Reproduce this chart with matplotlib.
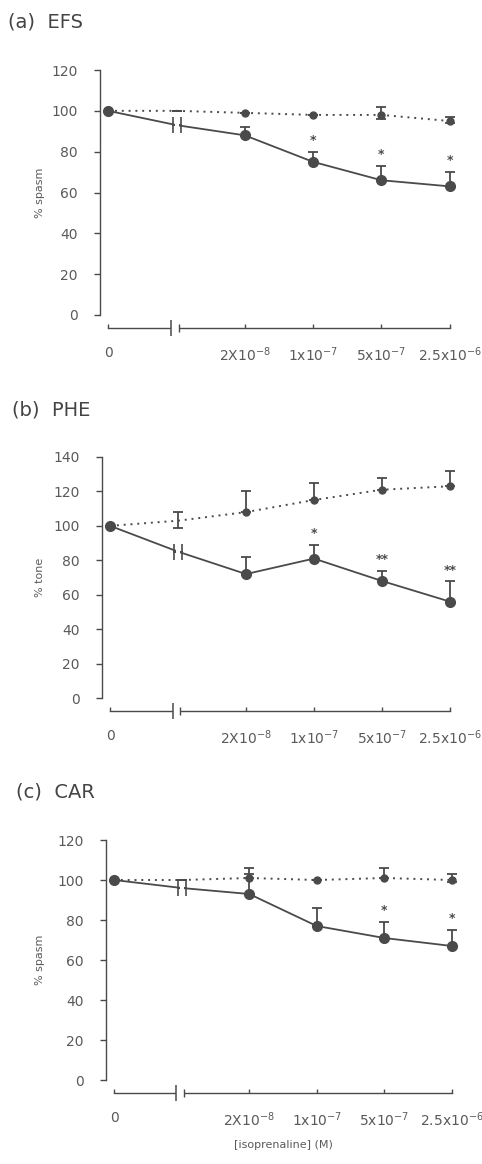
import numpy as np
import matplotlib
matplotlib.use("Agg")
import matplotlib.pyplot as plt
from matplotlib.path import Path
import matplotlib.transforms as mtrans

# ---------------- data ----------------
x_index = [0, 1, 2, 3, 4, 5]          # 0, (break = pre-drug), then 4 concentrations
tick_index = [0, 2, 3, 4, 5]
tick_labels = ['0', '2X10$^{-8}$', '1x10$^{-7}$', '5x10$^{-7}$', '2.5x10$^{-6}$']

# (a) EFS
efs_solid = [100, 93, 88, 75, 66, 63]
efs_solid_err = [0, 0, 4, 5, 7, 7]
efs_dotted = [100, 100, 99, 98, 98, 95]
efs_dotted_lo = [0, 0, 0, 0, 2, 1]
efs_dotted_hi = [0, 0, 0, 0, 4, 2]
efs_sig = ['', '', '', '*', '*', '*']

# (b) PHE
phe_solid = [100, 85, 72, 81, 68, 56]
phe_solid_err = [0, 0, 10, 8, 6, 12]
phe_dotted = [100, 103, 108, 115, 121, 123]
phe_dotted_lo = [0, 4, 0, 0, 0, 0]
phe_dotted_hi = [0, 5, 12, 10, 7, 9]
phe_sig = ['', '', '', '*', '**', '**']

# (c) CAR
car_solid = [100, 96, 93, 77, 71, 67]
car_solid_err = [0, 0, 13, 9, 8, 8]
car_dotted = [100, 100, 101, 100, 101, 100]
car_dotted_lo = [0, 0, 0, 0, 0, 1]
car_dotted_hi = [0, 0, 2, 0, 5, 3]
car_sig = ['', '', '', '', '*', '*']

titles = ['(a)  EFS', '(b)  PHE', '(c)  CAR']
ylabels = ['% spasm', '% tone', '% spasm']
ymaxes = [120, 140, 120]
xlabel = '[isoprenaline] (M)'

# ---------------- style ----------------
W, H = 482, 1164
DARK = '#4a4a4a'
TXT = '#5a5a5a'
plt.rcParams['font.family'] = ['DejaVu Sans']

fig = plt.figure(figsize=(W / 100, H / 100), dpi=100)
fig.patch.set_facecolor('white')

# axes rectangles in pixels: (left spine x, right x, top y, bottom y)
rects = [(100, 460, 70, 315), (102, 460, 457, 698), (106, 462, 840, 1080)]
title_pos = [(8, 22), (12, 410), (16, 792)]
OUT_PT = 9  # x-axis line offset below the plot, in points (~12 px)

# break marker: two vertical bars
brk_path = Path([(-0.45, -1), (-0.45, 1), (0.45, -1), (0.45, 1)],
                [Path.MOVETO, Path.LINETO, Path.MOVETO, Path.LINETO])

panels = [
    (efs_solid, efs_solid_err, efs_dotted, efs_dotted_lo, efs_dotted_hi, efs_sig),
    (phe_solid, phe_solid_err, phe_dotted, phe_dotted_lo, phe_dotted_hi, phe_sig),
    (car_solid, car_solid_err, car_dotted, car_dotted_lo, car_dotted_hi, car_sig),
]

for i, (solid, serr, dotted, dlo, dhi, sig) in enumerate(panels):
    l, r, t, b = rects[i]
    ax = fig.add_axes([l / W, (H - b) / H, (r - l) / W, (b - t) / H])
    ax.set_xlim(-0.12, 5.15)
    ax.set_ylim(0, ymaxes[i])
    for s in ['top', 'right']:
        ax.spines[s].set_visible(False)
    ax.spines['left'].set_color(DARK)
    ax.spines['left'].set_linewidth(1.0)
    ax.spines['bottom'].set_position(('outward', OUT_PT))
    ax.spines['bottom'].set_bounds(0, 5)
    ax.spines['bottom'].set_color(DARK)
    ax.spines['bottom'].set_linewidth(1.0)

    ax.set_yticks(np.arange(0, ymaxes[i] + 1, 20))
    ax.tick_params(axis='y', direction='out', length=4, width=1, color=DARK,
                   labelsize=10, labelcolor=TXT, pad=12)
    ax.set_xticks(tick_index)
    ax.set_xticklabels(tick_labels)
    ax.tick_params(axis='x', direction='in', length=3, width=1, color=DARK,
                   labelsize=10, labelcolor=TXT, pad=13)

    # x-axis break on the offset axis line
    off = mtrans.ScaledTranslation(0, -OUT_PT / 72, fig.dpi_scale_trans)
    axline_tr = ax.get_xaxis_transform() + off
    ax.plot([0.92, 1.03], [0, 0], color='white', lw=3, zorder=5,
            clip_on=False, transform=axline_tr, solid_capstyle='butt')
    ax.plot([0.92], [0], marker='|', ms=12, mew=1.1, color=DARK, zorder=6,
            clip_on=False, transform=axline_tr)
    ax.plot([1.03], [0], marker='|', ms=6, mew=1.0, color=DARK, zorder=6,
            clip_on=False, transform=axline_tr)

    # dotted (control) series
    ax.errorbar(x_index, dotted, yerr=[dlo, dhi], fmt='none', ecolor=DARK,
                elinewidth=1.3, capsize=3.5, capthick=1.3, zorder=3)
    ax.plot(x_index, dotted, ls=(0, (1, 2.5)), lw=1.4, color=DARK, zorder=3)
    ax.plot(x_index, dotted, ls='none', marker='o', ms=5, color=DARK,
            markevery=[0, 2, 3, 4, 5], zorder=4)

    # solid (treated) series
    ax.errorbar(x_index, solid, yerr=[np.zeros(len(serr)), serr], fmt='none',
                ecolor=DARK, elinewidth=1.3, capsize=3.5, capthick=1.3, zorder=3)
    ax.plot(x_index, solid, ls='-', lw=1.3, color=DARK, zorder=4)
    ax.plot(x_index, solid, ls='none', marker='o', ms=7, color=DARK,
            markevery=[0, 2, 3, 4, 5], zorder=5)
    ax.plot([x_index[1]], [solid[1]], ls='none', marker='s', ms=3.5,
            mew=0, color='white', zorder=4.5)
    ax.plot([x_index[1]], [solid[1]], ls='none', marker=brk_path, ms=12,
            mew=1.2, color=DARK, zorder=5)

    # significance marks
    for xi, yv, e, s in zip(x_index, solid, serr, sig):
        if s:
            ax.text(xi, yv + e + 2.5, s, ha='center', va='bottom',
                    fontsize=9, color=DARK, fontweight='bold')

    ax.text((40 - l) / (r - l), 0.5, ylabels[i], rotation=90, ha='center',
            va='center', fontsize=8, color=TXT, transform=ax.transAxes)

    tx, ty = title_pos[i]
    fig.text(tx / W, 1 - ty / H, titles[i], fontsize=14, color='#444444',
             ha='left', va='center')

fig.text(283 / W, 1 - 1145 / H, xlabel, fontsize=8, color=TXT,
         ha='center', va='center')

fig.savefig('out.png', dpi=100, facecolor='white')
